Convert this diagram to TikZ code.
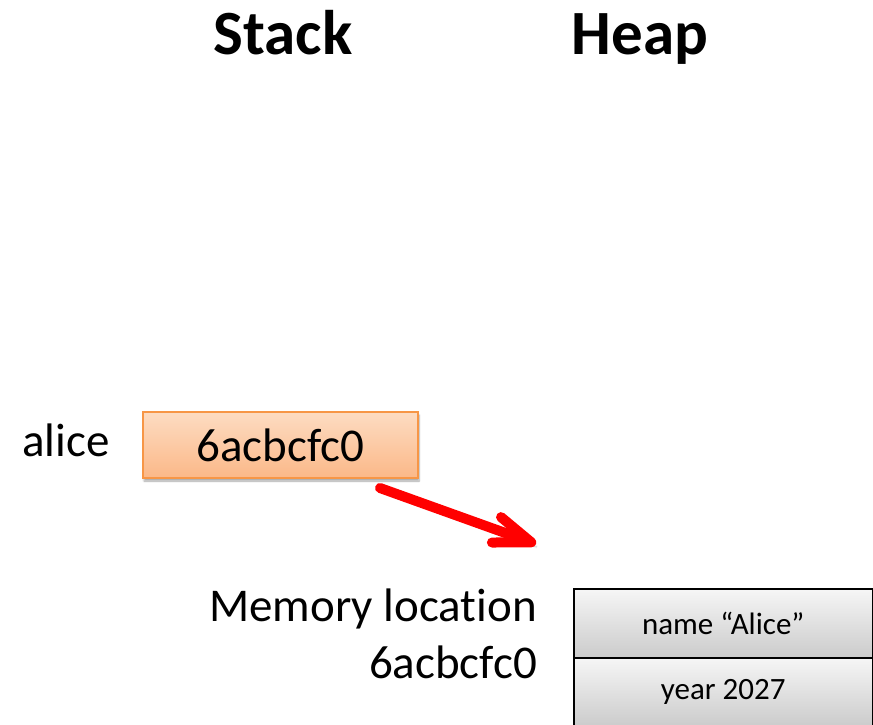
\documentclass[tikz,border=0pt]{standalone}
\usepackage{fontspec}
\setmainfont[Ligatures=NoCommon]{Carlito}
\usetikzlibrary{arrows.meta,shadows.blur}

\definecolor{ptrborder}{HTML}{F79646}
\definecolor{ptrtop}{HTML}{FDDCC2}
\definecolor{ptrbottom}{HTML}{FBB888}
\definecolor{celltop}{HTML}{F6F6F6}
\definecolor{cellbottom}{HTML}{CBCBCB}

\tikzset{
  title/.style={font=\fontsize{63}{72}\selectfont\bfseries, anchor=base, inner sep=0pt},
  label/.style={font=\fontsize{47}{57}\selectfont, inner sep=0pt},
  ptrbox/.style={draw=ptrborder, line width=1.5pt, top color=ptrtop, bottom color=ptrbottom,
    minimum width=275pt, minimum height=66pt, inner sep=0pt,
    font=\fontsize{47}{57}\selectfont,
    blur shadow={shadow xshift=1pt, shadow yshift=-3pt, shadow blur steps=6, shadow opacity=35}},
  heapcell/.style={draw=black, line width=1.5pt, top color=celltop, bottom color=cellbottom,
    minimum width=299pt, minimum height=69pt, inner sep=0pt, anchor=north west,
    font=\fontsize{31}{37}\selectfont},
  pointer/.style={draw=red, line width=10pt, line cap=round,
    -{Straight Barb[length=37pt, width=27pt, round]}}
}

\begin{document}
\begin{tikzpicture}[x=1pt, y=-1pt]
  \useasboundingbox (0,0) rectangle (873,725);

  % column headings
  \node[title] (stack) at (283,55) {Stack};
  \node[title] (heap)  at (640,55) {Heap};

  % the reference variable on the stack
  \node[ptrbox] (alice) at (280.5,445) {6acbcfc0};
  \node[label, anchor=east] (alicename) at (110,440) {alice};

  % the object on the heap
  \node[heapcell] (namecell) at (573,588) {name “Alice”};
  \node[heapcell] (yearcell) at (573,657) {year 2027};

  \node[label, anchor=base east] (memloc) at (537,621) {Memory location};
  \node[label, anchor=base east] (memaddr) at (537,678) {6acbcfc0};

  % pointer from the stack variable towards the heap object
  \coordinate (ptrstart) at (380,488);
  \coordinate (ptrend) at (536,544);
  \draw[pointer, blur shadow={shadow xshift=1pt, shadow yshift=-3pt, shadow opacity=25}] (ptrstart) -- (ptrend);
\end{tikzpicture}
\end{document}
